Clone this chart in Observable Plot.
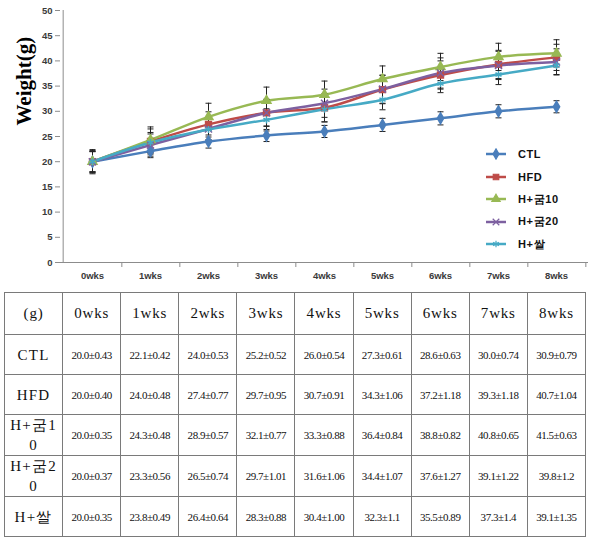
<!DOCTYPE html>
<html>
<head>
<meta charset="utf-8">
<script src="https://cdn.jsdelivr.net/npm/d3@7"></script>
<script src="https://cdn.jsdelivr.net/npm/@observablehq/plot@0.6"></script>
<style>
  body { margin: 0; background: #fff; }
  #wrap { position: relative; width: 598px; }
  #legend { position: absolute; left: 484px; top: 143px; font: bold 11px "Liberation Sans", Arial, sans-serif; color: #111; }
  #legend .row { display: flex; align-items: center; height: 22.5px; }
  #legend svg { margin-right: 10px; }
  #legend span { letter-spacing: 0.6px; }
  table { border-collapse: collapse; table-layout: fixed; width: 582px; margin: 2px 0 0 4px; font-family: "Liberation Serif", "Times New Roman", serif; color: #111; }
  td { border: 1px solid #7a7a7a; text-align: center; padding: 0 3px; height: 39px; }
  thead td { font-size: 15px; letter-spacing: 0.8px; height: 41px; }
  td.lab { font-size: 15px; letter-spacing: 1.2px; word-break: break-all; line-height: 20px; }
  td.val { font-size: 11px; letter-spacing: -0.45px; white-space: nowrap; }
</style>
</head>
<body>
<div id="wrap">
  <div id="chart"></div>
  <div id="legend"></div>
</div>
<div id="tbl"></div>
<script>
// ---- data ----
const weeks = ["0wks", "1wks", "2wks", "3wks", "4wks", "5wks", "6wks", "7wks", "8wks"];
const series = ["CTL", "HFD", "H+굼10", "H+굼20", "H+쌀"];
const yTicks = [0, 5, 10, 15, 20, 25, 30, 35, 40, 45, 50];

const meanCTL  = [20.0, 22.1, 24.0, 25.2, 26.0, 27.3, 28.6, 30.0, 30.9];
const meanHFD  = [20.0, 24.0, 27.4, 29.7, 30.7, 34.3, 37.2, 39.3, 40.7];
const meanG10  = [20.0, 24.3, 28.9, 32.1, 33.3, 36.4, 38.8, 40.8, 41.5];
const meanG20  = [20.0, 23.3, 26.5, 29.7, 31.6, 34.4, 37.6, 39.1, 39.8];
const meanRice = [20.0, 23.8, 26.4, 28.3, 30.4, 32.3, 35.5, 37.3, 39.1];

const semCTL  = ["0.43", "0.42", "0.53", "0.52", "0.54", "0.61", "0.63", "0.74", "0.79"];
const semHFD  = ["0.40", "0.48", "0.77", "0.95", "0.91", "1.06", "1.18", "1.18", "1.04"];
const semG10  = ["0.35", "0.48", "0.57", "0.77", "0.88", "0.84", "0.82", "0.65", "0.63"];
const semG20  = ["0.37", "0.56", "0.74", "1.01", "1.06", "1.07", "1.27", "1.22", "1.2"];
const semRice = ["0.35", "0.49", "0.64", "0.88", "1.00", "1.1", "0.89", "1.4", "1.35"];

// error bar half-lengths as drawn in the chart
const errCTL  = [2.4, 1.3, 1.3, 1.2, 1.2, 1.3, 1.3, 1.3, 1.2];
const errHFD  = [2.2, 2.5, 2.5, 2.6, 2.8, 2.8, 2.8, 2.8, 2.6];
const errG10  = [2.0, 2.6, 2.7, 2.7, 2.7, 2.6, 2.7, 2.7, 2.7];
const errG20  = [2.1, 2.2, 2.3, 2.7, 2.8, 2.8, 3.0, 2.8, 2.6];
const errRice = [2.0, 2.0, 2.0, 2.2, 2.5, 2.0, 1.8, 2.0, 1.8];

const colors = ["#4A7EBB", "#BE4B48", "#98B954", "#7D60A0", "#46AAC5"];
const symbols = ["diamond", "square", "triangle", "times", "asterisk"];

const means = [meanCTL, meanHFD, meanG10, meanG20, meanRice];
const sems = [semCTL, semHFD, semG10, semG20, semRice];
const errs = [errCTL, errHFD, errG10, errG20, errRice];

const rows = series.flatMap((s, si) => weeks.map((w, i) => ({series: s, week: w, mean: means[si][i], err: errs[si][i]})));

// horizontal cap symbol for the error bars (width = 2r)
const capSymbol = {draw(ctx, size) { const r = Math.sqrt(size / Math.PI); ctx.moveTo(-r, 0); ctx.lineTo(r, 0); }};

// ---- chart ----
const W = 598, H = 290, mL = 60, mR = 10, mT = 10, mB = 28;
const step = (W - mL - mR) / weeks.length;

const chart = Plot.plot({
  width: W, height: H,
  marginLeft: mL, marginRight: mR, marginTop: mT, marginBottom: mB,
  style: {fontFamily: "'Liberation Sans', Arial, sans-serif", fontSize: "9.5px", fontWeight: "bold", color: "#3a3a3a", background: "white"},
  x: {type: "point", domain: weeks, padding: 0.5, align: 0.5},
  y: {domain: [0, 50]},
  color: {domain: series, range: colors},
  symbol: {domain: series, range: symbols},
  marks: [
    Plot.ruleY([0], {stroke: "#8c8c8c"}),
    Plot.ruleX([weeks[0]], {y1: 0, y2: 50, dx: -step / 2, stroke: "#8c8c8c"}),
    Plot.axisY({ticks: yTicks, tickSize: 5, tickPadding: 3, stroke: "#8c8c8c", label: null}),
    Plot.axisX({tickSize: 0, tickPadding: 10, label: null}),
    Plot.axisX({ticks: weeks, tickSize: 5, tickFormat: () => "", dx: step / 2, stroke: "#8c8c8c", label: null}),
    Plot.line(rows, {x: "week", y: "mean", z: "series", stroke: "series", strokeWidth: 2.5, curve: "monotone-x"}),
    Plot.ruleX(rows, {x: "week", y1: d => d.mean - d.err, y2: d => d.mean + d.err, stroke: "#222", strokeWidth: 1}),
    Plot.dot(rows, {x: "week", y: d => d.mean + d.err, symbol: capSymbol, r: 3, stroke: "#222", strokeWidth: 1}),
    Plot.dot(rows, {x: "week", y: d => d.mean - d.err, symbol: capSymbol, r: 3, stroke: "#222", strokeWidth: 1}),
    Plot.dot(rows, {x: "week", y: "mean", symbol: "series", fill: "series", stroke: "series", strokeWidth: 1.5, r: 3.3}),
    Plot.text(["Weight(g)"], {frameAnchor: "left", rotate: -90, dx: -36, dy: -11, fontFamily: "'Liberation Serif', 'Times New Roman', serif", fontSize: 21, fontWeight: "bold", fill: "#000"})
  ]
});
document.getElementById("chart").appendChild(chart);

// ---- legend ----
const legend = d3.select("#legend");
const d3sym = {diamond: d3.symbolDiamond, square: d3.symbolSquare, triangle: d3.symbolTriangle, times: d3.symbolTimes, asterisk: d3.symbolAsterisk};
series.forEach((s, i) => {
  const row = legend.append("div").attr("class", "row");
  const svg = row.append("svg").attr("width", 24).attr("height", 12);
  svg.append("line").attr("x1", 2).attr("x2", 22).attr("y1", 6).attr("y2", 6).attr("stroke", colors[i]).attr("stroke-width", 2.5);
  svg.append("path").attr("transform", "translate(12,6)")
    .attr("d", d3.symbol(d3sym[symbols[i]], 30)())
    .attr("fill", colors[i]).attr("stroke", colors[i]).attr("stroke-width", 1.2);
  row.append("span").text(s);
});

// ---- table ----
const table = d3.select("#tbl").append("table");
const head = table.append("thead").append("tr");
head.append("td").text("(g)");
weeks.forEach(w => head.append("td").text(w));
const tb = table.append("tbody");
series.forEach((s, si) => {
  const tr = tb.append("tr");
  tr.append("td").attr("class", "lab").text(s);
  weeks.forEach((w, i) => tr.append("td").attr("class", "val").text(means[si][i].toFixed(1) + "±" + sems[si][i]));
});
</script>
</body>
</html>
